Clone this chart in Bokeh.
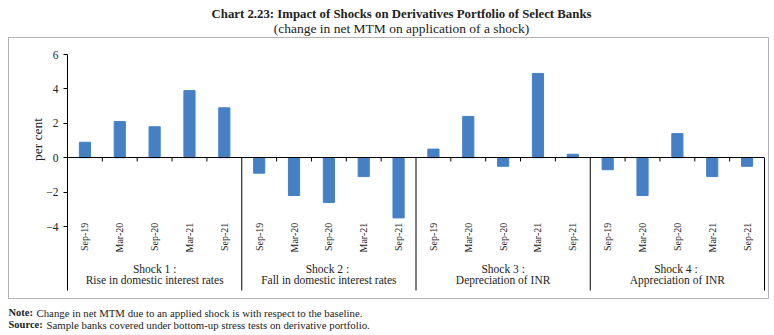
import math
from bokeh.plotting import figure
from bokeh.models import Range1d, FixedTicker, Label, BoxAnnotation, ColumnDataSource, LinearAxis
from bokeh.embed import file_html
from bokeh.resources import INLINE

periods = ["Sep-19", "Mar-20", "Sep-20", "Mar-21", "Sep-21"]
shocks = [
    "Shock 1 :\nRise in domestic interest rates",
    "Shock 2  :\nFall in domestic interest rates",
    "Shock 3 :\nDepreciation of INR",
    "Shock 4  :\nAppreciation of INR",
]
shock1 = [0.9, 2.1, 1.8, 3.9, 2.9]
shock2 = [-0.9, -2.2, -2.6, -1.1, -3.5]
shock3 = [0.5, 2.4, -0.5, 4.9, 0.2]
shock4 = [-0.7, -2.2, 1.4, -1.1, -0.5]
y_ticks = [-4, -2, 0, 2, 4, 6]

title = "Chart 2.23: Impact of Shocks on Derivatives Portfolio of Select Banks"
subtitle = "(change in net MTM on application of a shock)"
note_head = "Note:"
note_text = "Change in net MTM due to an applied shock is with respect to the baseline."
source_head = "Source:"
source_text = "Sample banks covered under bottom-up stress tests on derivative portfolio."

FONT = "Liberation Serif"
BAR = "#4680C4"
TXT = "#222222"

W, H = 774, 335
n = len(periods)
ng = len(shocks)
ncat = n * ng
values = shock1 + shock2 + shock3 + shock4
centers = [i + 0.5 for i in range(ncat)]
src = ColumnDataSource(dict(x=centers, top=values))

# pixel layout of the plotting area inside the canvas
left_px, right_px, top_px = 67, 764, 54
ppu_x = (right_px - left_px) / ncat
ppu_y = 17.2
Y_TOP, Y_LOW = 6, -7.72
x_range = Range1d(-left_px / ppu_x, ncat + (W - right_px) / ppu_x)
y_range = Range1d(Y_TOP - (H - top_px) / ppu_y, Y_TOP + top_px / ppu_y)

p = figure(width=W, height=H, x_range=x_range, y_range=y_range,
           x_axis_type=None, y_axis_type=None,
           output_backend="svg", toolbar_location=None,
           min_border=0)
p.title.visible = False
p.outline_line_color = None
p.background_fill_color = "white"
p.border_fill_color = "white"
p.grid.visible = False

p.vbar(x="x", top="top", width=0.32, bottom=0, color=BAR, source=src)

# y axis
ya = LinearAxis(fixed_location=0, bounds=(Y_LOW, Y_TOP), ticker=FixedTicker(ticks=y_ticks))
ya.major_tick_out = 4
ya.major_tick_in = 0
ya.minor_tick_out = 0
ya.minor_tick_in = 0
ya.major_label_standoff = 5
ya.major_label_text_font = FONT
ya.major_label_text_font_size = "11.5px"
ya.major_label_text_color = TXT
ya.axis_line_color = "black"
p.add_layout(ya, "left")

# x axis at zero with period labels
xa = LinearAxis(fixed_location=0, bounds=(0, ncat), ticker=FixedTicker(ticks=centers))
xa.major_label_overrides = {c: periods[i % n] for i, c in enumerate(centers)}
xa.major_tick_out = 0
xa.major_tick_in = 0
xa.minor_tick_out = 0
xa.minor_tick_in = 0
xa.axis_line_color = "black"
xa.major_label_orientation = math.pi / 2
xa.major_label_standoff = 65
xa.major_label_text_font = FONT
xa.major_label_text_font_size = "10px"
xa.major_label_text_color = TXT
p.add_layout(xa, "below")

# group labels
gcent = [g * n + n / 2 for g in range(ng)]
ga = LinearAxis(fixed_location=0, ticker=FixedTicker(ticks=gcent))
ga.major_label_overrides = {c: shocks[g] for g, c in enumerate(gcent)}
ga.axis_line_color = None
ga.major_tick_out = 0
ga.major_tick_in = 0
ga.minor_tick_out = 0
ga.minor_tick_in = 0
ga.major_label_orientation = "horizontal"
ga.major_label_standoff = 105
ga.major_label_text_font = FONT
ga.major_label_text_font_size = "11.5px"
ga.major_label_text_line_height = 0.95
ga.major_label_text_color = TXT
p.add_layout(ga, "below")

# tick marks at category boundaries and group separators
bx = [g * n + k for g in range(ng) for k in range(1, n)]
p.segment(x0=bx, x1=bx, y0=[0] * len(bx), y1=[-0.22] * len(bx), line_color="black", line_width=1)
sx = [(g + 1) * n for g in range(ng)]
p.segment(x0=sx, x1=sx, y0=[0] * len(sx), y1=[Y_LOW] * len(sx), line_color="black", line_width=1)

# outer box (screen units, y from bottom)
p.add_layout(BoxAnnotation(left=8, right=768, top=H - 37, bottom=H - 298,
                           left_units="screen", right_units="screen", top_units="screen", bottom_units="screen",
                           fill_color=None, line_color="black", line_width=1))

def lab(x, y, text, size, style="normal", align="left", angle=0):
    p.add_layout(Label(x=x, y=H - y, x_units="screen", y_units="screen", text=text,
                       text_font=FONT, text_font_size=size, text_font_style=style,
                       text_align=align, text_baseline="middle", angle=angle, text_color=TXT))

lab(401, 13, title, "12.8px", "bold", "center")
lab(401, 28, subtitle, "13.5px", "normal", "center")
lab(37, 139, "per cent", "13.5px", "normal", "center", math.pi / 2)
lab(8, 312, note_head, "10.5px", "bold")
lab(36, 312, note_text, "10.8px")
lab(8, 324, source_head, "10.5px", "bold")
lab(46, 324, source_text, "10.8px")

open("out.html", "w").write(file_html(p, INLINE))
